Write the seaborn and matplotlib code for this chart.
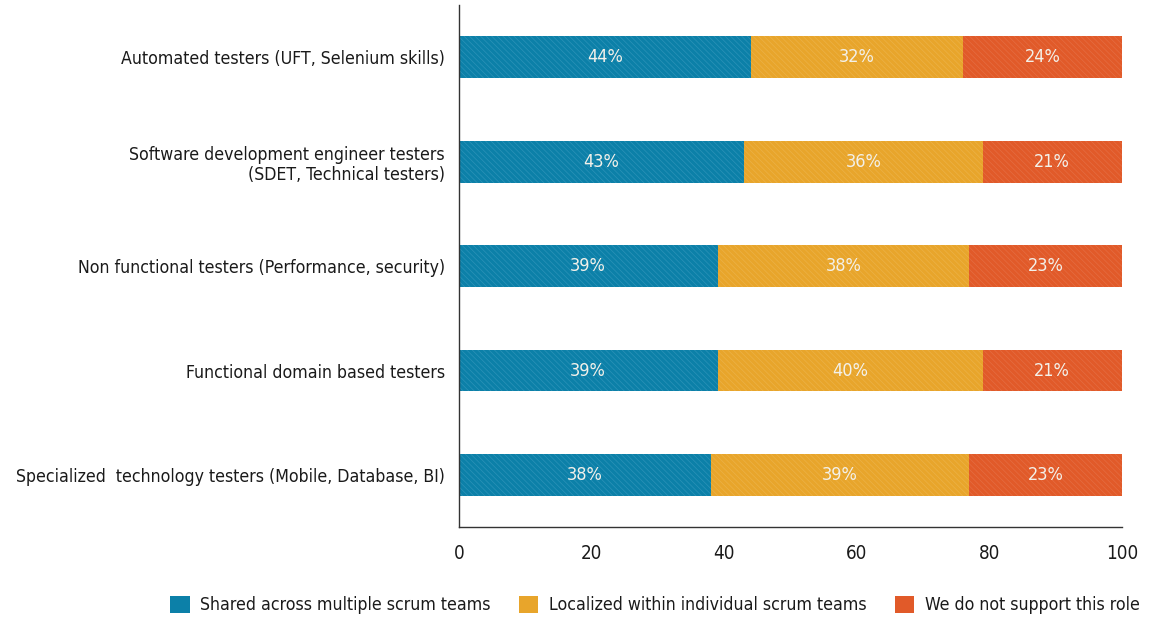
import numpy as np
import pandas as pd
import matplotlib
matplotlib.use("Agg")
import matplotlib.pyplot as plt
import seaborn as sns
from matplotlib.patches import Patch

categories = [
    "Automated testers (UFT, Selenium skills)",
    "Software development engineer testers\n(SDET, Technical testers)",
    "Non functional testers (Performance, security)",
    "Functional domain based testers",
    "Specialized  technology testers (Mobile, Database, BI)",
]
shared = [44, 43, 39, 39, 38]
localized = [32, 36, 38, 40, 39]
not_supported = [24, 21, 23, 21, 23]
series_names = ["Shared across multiple scrum teams",
                "Localized within individual scrum teams",
                "We do not support this role"]
colors = ["#0C80A8", "#E8A52B", "#E15A29"]
hatch_colors = ["#2C93B8", "#ECB247", "#E56D42"]

sns.set_style("white")
plt.rcParams["font.family"] = ["DejaVu Sans"]
plt.rcParams["font.stretch"] = "condensed"
plt.rcParams["hatch.linewidth"] = 0.5
plt.rcParams["text.color"] = "#1a1a1a"
plt.rcParams["xtick.color"] = "#1a1a1a"
plt.rcParams["ytick.color"] = "#1a1a1a"

df = pd.DataFrame({"cat": categories, "s": shared, "l": localized, "n": not_supported})
df["c1"] = df["s"]
df["c2"] = df["s"] + df["l"]
df["c3"] = df["s"] + df["l"] + df["n"]

fig = plt.figure(figsize=(11.59, 6.21), dpi=100)
ax = fig.add_axes([0.396, 0.151, 0.572, 0.841])

for col, c, hc in [("c3", colors[2], hatch_colors[2]),
                   ("c2", colors[1], hatch_colors[1]),
                   ("c1", colors[0], hatch_colors[0])]:
    sns.barplot(data=df, y="cat", x=col, orient="h", color=c, width=0.4,
                saturation=1, ax=ax, hatch="\\\\\\\\\\\\", edgecolor=hc, linewidth=0)

for i in range(len(categories)):
    starts = [0, shared[i], shared[i] + localized[i]]
    vals = [shared[i], localized[i], not_supported[i]]
    for st, v in zip(starts, vals):
        ax.text(st + v / 2, i, f"{v}%", ha="center", va="center",
                color="#F3F1EA", fontsize=13)

ax.set_xlim(0, 100)
ax.set_ylim(4.5, -0.5)
ax.set_xticks([0, 20, 40, 60, 80, 100])
ax.set_yticks([-0.5, 0.5, 1.5, 2.5, 3.5], minor=False)
ax.set_yticklabels([])
ax.set_yticks(range(len(categories)), minor=True)
ax.set_yticklabels(categories, minor=True, fontsize=12.7)
ax.tick_params(axis="y", which="minor", length=0, pad=10)
ax.tick_params(axis="y", which="major", length=6, width=1, color="#333333")
ax.tick_params(axis="x", length=6, width=1, color="#333333", labelsize=13.5, pad=6)
ax.set_xlabel("")
ax.set_ylabel("")
for s in ["top", "right"]:
    ax.spines[s].set_visible(False)
for s in ["left", "bottom"]:
    ax.spines[s].set_color("#333333")
    ax.spines[s].set_linewidth(1)

handles = [Patch(facecolor=c, edgecolor="none") for c in colors]
fig.legend(handles, series_names, loc="center", bbox_to_anchor=(0.565, 0.026),
           ncol=3, frameon=False, fontsize=12.7, handlelength=1.1, handleheight=1.1,
           columnspacing=1.6, handletextpad=0.6)

fig.savefig("out.png", dpi=100)
